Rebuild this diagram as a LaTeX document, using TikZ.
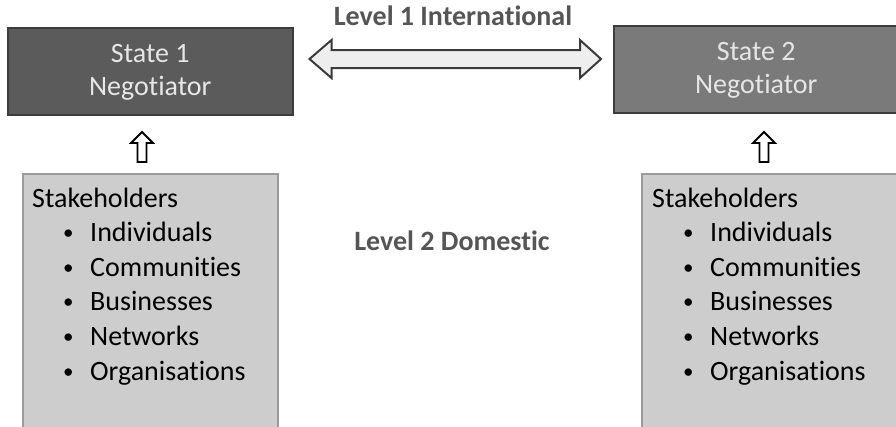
\documentclass[tikz,border=0pt]{standalone}
\usepackage{fontspec}
\setmainfont{Carlito}[Ligatures=NoCommon]
\usetikzlibrary{calc}
\definecolor{darkbox}{HTML}{5B5B5B}
\definecolor{midbox}{HTML}{7A7A7A}
\definecolor{lightbox}{HTML}{CDCDCD}
\definecolor{boxline}{HTML}{3C3C3C}
\definecolor{lightline}{HTML}{9A9A9A}
\definecolor{statetext}{HTML}{E6E6E6}
\definecolor{titletext}{HTML}{555555}
\definecolor{arrowfill}{HTML}{EEEEEE}
\definecolor{arrowline}{HTML}{3A3A3A}
\newcommand{\smallbul}{\raisebox{2pt}{\fontsize{21}{21}\selectfont•}}
\begin{document}
\begin{tikzpicture}[x=1pt,y=-1pt,
  statebox/.style={draw=boxline,line width=1.5pt,minimum width=285pt,minimum height=87pt,inner sep=0pt},
  statelabel/.style={text=statetext,align=center,font=\fontsize{28}{33}\selectfont,inner sep=0pt,anchor=base},
  holderbox/.style={draw=lightline,line width=1.5pt,fill=lightbox,minimum width=255pt,minimum height=260pt,inner sep=0pt},
  holdertext/.style={anchor=base west,inner sep=0pt,font=\fontsize{28}{34}\selectfont,text=black},
  leveltext/.style={font=\bfseries\fontsize{28}{34}\selectfont,text=titletext,inner sep=0pt,anchor=base},
  bigarrow/.style={draw=arrowline,line width=2pt,fill=arrowfill,line join=miter},
  uparrow/.style={draw=black,line width=1.8pt,fill=white,line join=miter}
]
\clip (0,0) rectangle (896,426);
\fill[white] (0,0) rectangle (896,426);

% state boxes
\node[statebox,fill=darkbox,anchor=north west] (s1) at (7,27) {};
\node[statebox,fill=midbox,anchor=north west] (s2) at (613,25) {};
\node[statelabel] (s1a) at ($(s1.north)+(0,35)$) {State 1};
\node[statelabel] (s1b) at ($(s1.north)+(0,68)$) {Negotiator};
\node[statelabel] (s2a) at ($(s2.north)+(0,35)$) {State 2};
\node[statelabel] (s2b) at ($(s2.north)+(0,68)$) {Negotiator};

% stakeholder boxes
\node[holderbox,anchor=north west] (h1) at (22,173) {};
\node[holderbox,anchor=north west] (h2) at (641,173) {};

% stakeholder lists
\foreach \bx/\pre in {32/a,652/b}{
  \node[holdertext] (\pre0) at (\bx,207) {Stakeholders};
  \foreach \t [count=\i] in {Individuals,Communities,Businesses,Networks,Organisations}{
    \node[holdertext] (\pre\i) at (\bx+31,207+34.6*\i) {\makebox[27pt][l]{\smallbul}\t};
  }
}

% level labels
\node[leveltext] (lv1) at (453,25) {Level 1 International};
\node[leveltext] (lv2) at (452,250) {Level 2 Domestic};

% level 1 double arrow between state boxes
\coordinate (la) at ($(s1.east)+(16,0)$);
\coordinate (ra) at ($(s2.west)+(-12,0)$);
\path[bigarrow] (la |- 0,59) -- ++(22,-19) -- ++(0,10) -- ($(ra |- 0,50)+(-21,0)$) -- ++(0,-10)
  -- (ra |- 0,59) -- ++(-21,19) -- ++(0,-10) -- ($(la |- 0,68)+(22,0)$) -- ++(0,10) -- cycle;

% up arrows from stakeholder boxes to negotiators
\foreach \h/\s/\cx in {h1/s1/142,h2/s2/764}{
  \coordinate (b\h) at (\cx,162);
  \coordinate (t\h) at (\cx,132);
  \path[uparrow] ($(b\h)+(-4.5,0)$) -- ($(t\h)+(-4.5,11)$) -- ($(t\h)+(-11,11)$) -- (t\h)
    -- ($(t\h)+(11,11)$) -- ($(t\h)+(4.5,11)$) -- ($(b\h)+(4.5,0)$) -- cycle;
}
\end{tikzpicture}
\end{document}
